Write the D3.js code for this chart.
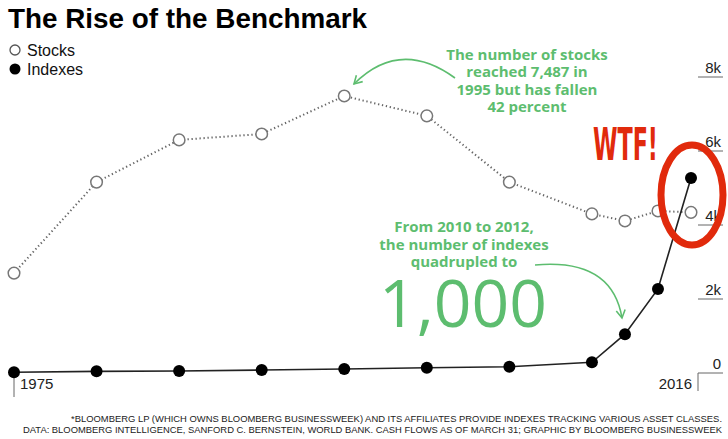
<!DOCTYPE html>
<html>
<head>
<meta charset="utf-8">
<script src="https://cdn.jsdelivr.net/npm/d3@7"></script>
<style>
  html, body { margin: 0; padding: 0; background: #fff; }
  svg { display: block; }
</style>
</head>
<body>
<svg id="chart" width="728" height="439"></svg>
<script>
// values
const years   = [1975, 1980, 1985, 1990, 1995, 2000, 2005, 2010, 2012, 2014, 2016];
const stocks  = [2700, 5160, 6300, 6460, 7487, 6950, 5160, 4300, 4110, 4380, 4342];
const indexes = [20, 45, 55, 80, 110, 140, 170, 290, 1050, 2270, 5270];
const yTicks  = [0, 2000, 4000, 6000, 8000];
const yTickLabels = ["0", "2k", "4k", "6k", "8k"];

const green = "#5dbd6f";
const red = "#e12a0c";

const svg = d3.select("#chart");

const x = d3.scaleLinear().domain([1975, 2016]).range([14, 691]);
const y = d3.scaleLinear().domain([0, 8000]).range([373, 77]);

// ─── Title + legend ────────────────────────────────────────────
svg.append("text")
  .attr("x", 8).attr("y", 28)
  .attr("font-family", "Liberation Sans, Arial, sans-serif")
  .attr("font-weight", 700).attr("font-size", 28)
  .attr("textLength", 359).attr("lengthAdjust", "spacingAndGlyphs")
  .text("The Rise of the Benchmark");

const legend = svg.append("g");
legend.append("circle").attr("cx", 15).attr("cy", 50).attr("r", 5)
  .attr("fill", "#fff").attr("stroke", "#555").attr("stroke-width", 1.3);
legend.append("circle").attr("cx", 15).attr("cy", 69).attr("r", 5.5)
  .attr("fill", "#000");
legend.selectAll("text.lg")
  .data(["Stocks", "Indexes"])
  .join("text")
  .attr("x", 27).attr("y", (d, i) => 56 + i * 19)
  .attr("font-family", "Liberation Sans, Arial, sans-serif")
  .attr("font-size", 16).attr("fill", "#111")
  .text(d => d);

// ─── Right axis ────────────────────────────────────────────────
const axis = svg.append("g");
axis.selectAll("line.tick")
  .data(yTicks)
  .join("line")
  .attr("x1", 698).attr("x2", 723)
  .attr("y1", d => y(d)).attr("y2", d => y(d))
  .attr("stroke", "#666").attr("stroke-width", 1);
axis.selectAll("text.tick")
  .data(yTicks)
  .join("text")
  .attr("x", 721).attr("y", d => y(d) - 4)
  .attr("text-anchor", "end")
  .attr("font-family", "Liberation Sans, Arial, sans-serif")
  .attr("font-size", 15).attr("fill", "#222")
  .text((d, i) => yTickLabels[i]);

// year brackets
axis.append("line").attr("x1", x(1975)).attr("x2", x(1975))
  .attr("y1", y(0)).attr("y2", 397).attr("stroke", "#666");
axis.append("line").attr("x1", 698).attr("x2", 698)
  .attr("y1", y(0)).attr("y2", 391).attr("stroke", "#666");
axis.append("text").attr("x", 20).attr("y", 389)
  .attr("font-family", "Liberation Sans, Arial, sans-serif")
  .attr("font-size", 15).attr("fill", "#222").text("1975");
axis.append("text").attr("x", 692).attr("y", 389).attr("text-anchor", "end")
  .attr("font-family", "Liberation Sans, Arial, sans-serif")
  .attr("font-size", 15).attr("fill", "#222").text("2016");

// ─── Series ────────────────────────────────────────────────────
const line = d3.line().x((d, i) => x(years[i])).y(d => y(d));

svg.append("path")
  .attr("d", line(stocks))
  .attr("fill", "none").attr("stroke", "#666")
  .attr("stroke-width", 2).attr("stroke-dasharray", "1.3,2.7");

svg.selectAll("circle.stock")
  .data(stocks)
  .join("circle")
  .attr("class", "stock")
  .attr("cx", (d, i) => x(years[i])).attr("cy", d => y(d)).attr("r", 5.8)
  .attr("fill", "#fff").attr("stroke", "#777").attr("stroke-width", 1.5);

svg.append("path")
  .attr("d", line(indexes))
  .attr("fill", "none").attr("stroke", "#222").attr("stroke-width", 1.6);

svg.selectAll("circle.index")
  .data(indexes)
  .join("circle")
  .attr("class", "index")
  .attr("cx", (d, i) => x(years[i])).attr("cy", d => y(d)).attr("r", 6)
  .attr("fill", "#000");

// ─── Annotations ───────────────────────────────────────────────
svg.append("defs").append("marker")
  .attr("id", "ah").attr("viewBox", "0 0 10 10")
  .attr("refX", 8).attr("refY", 5)
  .attr("markerWidth", 7).attr("markerHeight", 7)
  .attr("orient", "auto")
  .append("path").attr("d", "M1,1 L8,5 L1,9")
  .attr("fill", "none").attr("stroke", green).attr("stroke-width", 1.4);

const note1 = ["The number of stocks", "reached 7,487 in", "1995 but has fallen", "42 percent"];
svg.selectAll("text.n1")
  .data(note1)
  .join("text")
  .attr("x", 527).attr("y", (d, i) => 60 + i * 17.3)
  .attr("text-anchor", "middle")
  .attr("font-family", "Open Sans, sans-serif")
  .attr("font-weight", 700).attr("font-size", 15).attr("fill", green)
  .text(d => d);

svg.append("path")
  .attr("d", "M455,78 Q400,38 354,84")
  .attr("fill", "none").attr("stroke", green).attr("stroke-width", 1.6)
  .attr("marker-end", "url(#ah)");

const note2 = ["From 2010 to 2012,", "the number of indexes", "quadrupled to"];
svg.selectAll("text.n2")
  .data(note2)
  .join("text")
  .attr("x", 464).attr("y", (d, i) => 232 + i * 17.5)
  .attr("text-anchor", "middle")
  .attr("font-family", "Open Sans, sans-serif")
  .attr("font-weight", 700).attr("font-size", 15).attr("fill", green)
  .text(d => d);

svg.append("text")
  .attr("x", 463).attr("y", 327).attr("text-anchor", "middle")
  .attr("font-family", "Open Sans, sans-serif")
  .attr("font-size", 66).attr("fill", green)
  .attr("textLength", 168).attr("lengthAdjust", "spacingAndGlyphs")
  .text("1,000");

svg.append("path")
  .attr("d", "M535,265 Q612,258 622,318")
  .attr("fill", "none").attr("stroke", green).attr("stroke-width", 1.6)
  .attr("marker-end", "url(#ah)");

// WTF callout
svg.append("text")
  .attr("x", 593).attr("y", 160)
  .attr("font-family", "Liberation Sans Narrow, DejaVu Sans Condensed, sans-serif")
  .attr("font-weight", 700).attr("font-size", 44).attr("fill", red)
  .attr("textLength", 65).attr("lengthAdjust", "spacingAndGlyphs")
  .text("WTF!");

svg.append("ellipse")
  .attr("cx", 692).attr("cy", 195).attr("rx", 31).attr("ry", 50)
  .attr("fill", "none").attr("stroke", red).attr("stroke-width", 7);

// ─── Footer ────────────────────────────────────────────────────
const footer = [
  "*BLOOMBERG LP (WHICH OWNS BLOOMBERG BUSINESSWEEK) AND ITS AFFILIATES PROVIDE INDEXES TRACKING VARIOUS ASSET CLASSES.",
  "DATA: BLOOMBERG INTELLIGENCE, SANFORD C. BERNSTEIN, WORLD BANK. CASH FLOWS AS OF MARCH 31; GRAPHIC  BY BLOOMBERG BUSINESSWEEK"
];
const footerLen = [651, 699];
svg.selectAll("text.ft")
  .data(footer)
  .join("text")
  .attr("x", 722).attr("y", (d, i) => 422 + i * 11)
  .attr("text-anchor", "end")
  .attr("font-family", "Liberation Sans, Arial, sans-serif")
  .attr("font-size", 8.8).attr("fill", "#222")
  .attr("textLength", (d, i) => footerLen[i]).attr("lengthAdjust", "spacingAndGlyphs")
  .text(d => d);
</script>
</body>
</html>
